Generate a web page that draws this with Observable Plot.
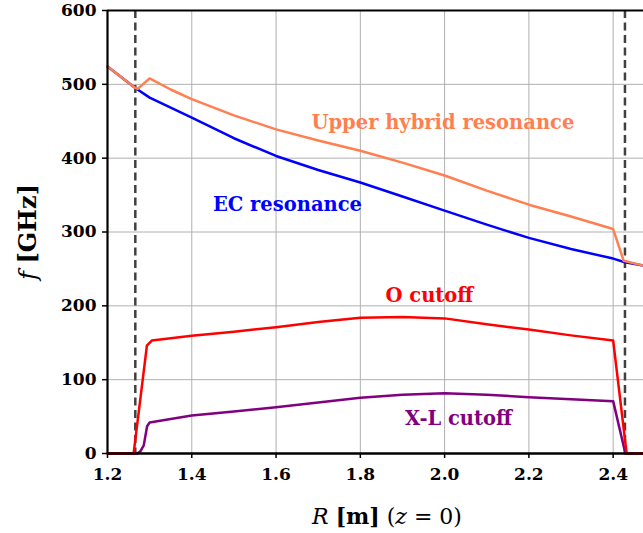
<!DOCTYPE html>
<html><head><meta charset="utf-8">
<script src="https://cdn.jsdelivr.net/npm/d3@7"></script>
<script src="https://cdn.jsdelivr.net/npm/@observablehq/plot@0.6"></script>
<style>body{margin:0;background:#fff}</style>
</head><body><div id="chart"></div>
<script>
// ---- data ----
const ecR = [1.2, 1.266, 1.3, 1.4, 1.5, 1.6, 1.7, 1.8, 1.9, 2.0, 2.1, 2.2, 2.3, 2.4, 2.428, 2.472];
const ecF = [524, 495, 482, 455, 427, 403, 384, 367, 348, 329, 310, 292, 277, 264, 259, 254.5];

const uhR = [1.2, 1.266, 1.272, 1.300, 1.35, 1.4, 1.5, 1.6, 1.7, 1.8, 1.9, 2.0, 2.1, 2.2, 2.3, 2.4, 2.425, 2.472];
const uhF = [524, 495, 494, 508, 493, 480, 458, 439, 424, 410, 394, 376.5, 356, 337, 321, 304, 261, 254.5];

const oR = [1.2, 1.262, 1.2935, 1.305, 1.4, 1.5, 1.6, 1.7, 1.8, 1.9, 2.0, 2.1, 2.2, 2.3, 2.4, 2.432, 2.472];
const oF = [0, 0, 146, 153, 159.5, 165, 171, 178, 184, 185, 183, 175, 168, 160, 153, 0, 0];

const xlR = [1.2, 1.2704, 1.278, 1.286, 1.294, 1.300, 1.4, 1.5, 1.6, 1.7, 1.8, 1.9, 2.0, 2.1, 2.2, 2.3, 2.4, 2.429, 2.472];
const xlF = [0, 0, 3, 11, 37, 42, 51.5, 57, 62.7, 69, 75.4, 79.5, 81.5, 79.5, 76.3, 73.5, 70.9, 0, 0];

const separatrixR = [1.266, 2.428];

const xTicks = [1.2, 1.4, 1.6, 1.8, 2.0, 2.2, 2.4];
const yTicks = [0, 100, 200, 300, 400, 500, 600];

const annText = ["Upper hybrid resonance", "EC resonance", "O cutoff", "X-L cutoff"];
const annR = [1.996, 1.627, 1.964, 2.033];
const annF = [448, 337, 213, 47];

// ---- styles ----
const colors = {uh: "#FF7F50", ec: "#0000FF", o: "#FF0000", xl: "#800080"};
const annColors = [colors.uh, colors.ec, colors.o, colors.xl];

const zip = (R, F) => R.map((r, i) => ({R: r, f: F[i]}));
const ec = zip(ecR, ecF), uh = zip(uhR, uhF), oc = zip(oR, oF), xl = zip(xlR, xlF);
const ann = annText.map((t, i) => ({text: t, R: annR[i], f: annF[i], c: annColors[i]}));

const serif = "'DejaVu Serif', serif";
const lw = 2.5;

const plot = Plot.plot({
  width: 643, height: 533,
  marginTop: 10, marginLeft: 107, marginRight: 0, marginBottom: 80,
  x: {domain: [1.2, 2.472], label: null},
  y: {domain: [0, 600], label: null},
  style: {fontFamily: serif, background: "white", overflow: "visible", color: "black"},
  marks: [
    Plot.gridX(xTicks, {stroke: "#b0b0b0", strokeOpacity: 1, strokeWidth: 1}),
    Plot.gridY(yTicks, {stroke: "#b0b0b0", strokeOpacity: 1, strokeWidth: 1}),
    Plot.ruleX(separatrixR, {stroke: "#404040", strokeWidth: 2.5, strokeDasharray: "8,4.5"}),
    Plot.line(ec, {x: "R", y: "f", stroke: colors.ec, strokeWidth: lw}),
    Plot.line(uh, {x: "R", y: "f", stroke: colors.uh, strokeWidth: lw}),
    Plot.line(xl, {x: "R", y: "f", stroke: colors.xl, strokeWidth: lw}),
    Plot.line(oc, {x: "R", y: "f", stroke: colors.o, strokeWidth: lw}),
    Plot.ruleX([1.2], {stroke: "black", strokeWidth: 2.2}),
    Plot.ruleY([600], {stroke: "black", strokeWidth: 2.2}),
    Plot.ruleY([0], {stroke: "black", strokeWidth: 2.6}),
    Plot.axisX(xTicks, {tickFormat: d3.format(".1f"), tickSize: 5, tickPadding: 9, fontSize: 17, fontWeight: "bold", strokeWidth: 1.5, label: null}),
    Plot.axisY(yTicks, {tickSize: 5, tickPadding: 6, fontSize: 17, fontWeight: "bold", strokeWidth: 1.5, label: null}),
    Plot.text(ann, {x: "R", y: "f", text: "text", fill: "c", fontSize: 19.5, fontWeight: "bold", fontFamily: serif})
  ]
});

const svg = d3.select(plot);
// y axis label: f [GHz]
const yl = svg.append("text")
  .attr("transform", "translate(36,232) rotate(-90)")
  .attr("text-anchor", "middle")
  .attr("font-family", serif).attr("font-size", 24).attr("fill", "black");
yl.append("tspan").attr("font-style", "italic").text("f");
yl.append("tspan").text(" ");
yl.append("tspan").attr("font-weight", "bold").text("[GHz]");

// x axis label: R [m] (z = 0)
const xlab = svg.append("text")
  .attr("x", 387).attr("y", 524)
  .attr("text-anchor", "middle")
  .attr("font-family", serif).attr("font-size", 22).attr("fill", "black");
xlab.append("tspan").attr("font-style", "italic").text("R");
xlab.append("tspan").text(" ");
xlab.append("tspan").attr("font-weight", "bold").text("[m]");
xlab.append("tspan").text(" (");
xlab.append("tspan").attr("font-style", "italic").text("z");
xlab.append("tspan").text(" = 0)");

document.getElementById("chart").appendChild(plot);
</script>
</body></html>
